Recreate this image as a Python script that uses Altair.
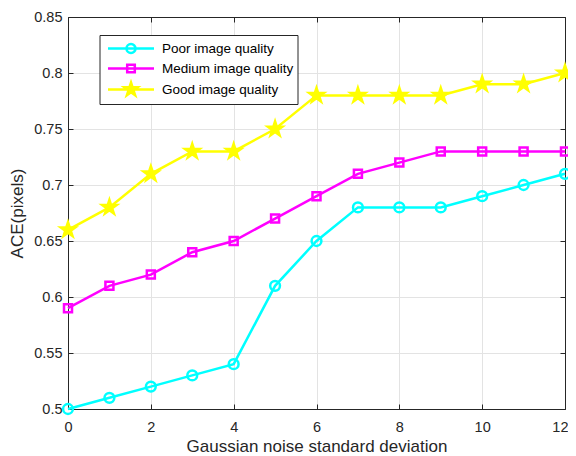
import math
import altair as alt
import pandas as pd

# ---------------- data ----------------
noise_sd = [0, 1, 2, 3, 4, 5, 6, 7, 8, 9, 10, 11, 12]
poor = [0.50, 0.51, 0.52, 0.53, 0.54, 0.61, 0.65, 0.68, 0.68, 0.68, 0.69, 0.70, 0.71]
medium = [0.59, 0.61, 0.62, 0.64, 0.65, 0.67, 0.69, 0.71, 0.72, 0.73, 0.73, 0.73, 0.73]
good = [0.66, 0.68, 0.71, 0.73, 0.73, 0.75, 0.78, 0.78, 0.78, 0.78, 0.79, 0.79, 0.80]
series_names = ["Poor image quality", "Medium image quality", "Good image quality"]
x_ticks = [0, 2, 4, 6, 8, 10, 12]
y_ticks = [0.5, 0.55, 0.6, 0.65, 0.7, 0.75, 0.8, 0.85]

# ---------------- styles ----------------
series_colors = ["#00FFFF", "#FF00FF", "#FFFF00"]
series_fills = ["transparent", "transparent", "#FFFF00"]
FONT = "Liberation Sans"
TXT = "#262626"


def f(v):
    return f"{v:.3f}"


def circle_path(r):
    return f"M{f(r)},0 A{f(r)},{f(r)} 0 1,1 {f(-r)},0 A{f(r)},{f(r)} 0 1,1 {f(r)},0 Z"


def square_path(h):
    return f"M{f(-h)},{f(-h)} L{f(h)},{f(-h)} L{f(h)},{f(h)} L{f(-h)},{f(h)} Z"


def star_path(R, ratio=0.382):
    pts = []
    for k in range(10):
        a = math.radians(-90 + 36 * k)
        rr = R if k % 2 == 0 else R * ratio
        pts.append((rr * math.cos(a), rr * math.sin(a)))
    return "M" + " L".join(f"{f(px)},{f(py)}" for px, py in pts) + " Z"


# plot markers: size 100 -> unit = 5px
PT_SIZE = 100
u = math.sqrt(PT_SIZE) / 2
marker_paths = [circle_path(4.9 / u), square_path(4.0 / u), star_path(7.6 / u)]

# legend symbols: line + marker
LG_SIZE = 306.25
lu = math.sqrt(LG_SIZE) / 2
half = 23 / lu
line_seg = f"M{f(-half)},0 L{f(half)},0 "
legend_paths = [
    line_seg + circle_path(4.5 / lu),
    line_seg + square_path(3.8 / lu),
    line_seg + star_path(7.0 / lu),
]

rows = []
for name, vals in zip(series_names, [poor, medium, good]):
    for xv, yv in zip(noise_sd, vals):
        rows.append({"x": xv, "y": yv, "series": name})
df = pd.DataFrame(rows)

x_scale = alt.Scale(domain=[0, 12], nice=False, zero=False)
y_scale = alt.Scale(domain=[0.5, 0.85], nice=False, zero=False)
stroke_scale = alt.Scale(domain=series_names, range=series_colors)
fill_scale = alt.Scale(domain=series_names, range=series_fills)

last_x = x_ticks[-1]
main_x_axis = alt.Axis(
    values=x_ticks, format="d", title="Gaussian noise standard deviation",
    grid=True, gridColor="#e3e3e3", gridWidth=1,
    domainColor=TXT, domainWidth=1, tickColor=TXT, tickSize={"expr": "-5"},
    labelFont=FONT, labelFontSize=14.5, labelColor=TXT, labelPadding=16,
    labelAlign={"condition": {"test": f"datum.value == {last_x}", "value": "right"}, "value": "center"},
    labelOffset={"condition": {"test": f"datum.value == {last_x}", "value": 3}, "value": 0},
    titleFont=FONT, titleFontSize=17, titleFontWeight="normal", titleColor=TXT,
    titlePadding=5, labelFlush=False,
)
main_y_axis = alt.Axis(
    values=y_ticks, format="~g", title="ACE(pixels)",
    grid=True, gridColor="#e3e3e3", gridWidth=1,
    domainColor=TXT, domainWidth=1, tickColor=TXT, tickSize={"expr": "-5"},
    labelFont=FONT, labelFontSize=14.5, labelColor=TXT, labelPadding=11,
    titleFont=FONT, titleFontSize=17, titleFontWeight="normal", titleColor=TXT,
    titlePadding=7, labelFlush=False,
)
box_x_axis = alt.Axis(
    orient="top", values=x_ticks, labels=False, title=None, grid=False,
    domainColor=TXT, domainWidth=1, tickColor=TXT, tickSize={"expr": "-5"},
)
box_y_axis = alt.Axis(
    orient="right", values=y_ticks, labels=False, title=None, grid=False,
    domainColor=TXT, domainWidth=1, tickColor=TXT, tickSize={"expr": "-5"},
)

lines = alt.Chart(df).mark_line(strokeWidth=2.5).encode(
    x=alt.X("x:Q", scale=x_scale, axis=main_x_axis),
    y=alt.Y("y:Q", scale=y_scale, axis=main_y_axis),
    stroke=alt.Stroke("series:N", scale=stroke_scale, legend=None),
    order=alt.Order("x:Q"),
)

points = alt.Chart(df).mark_point(filled=True, size=PT_SIZE, strokeWidth=2.5, opacity=1).encode(
    x=alt.X("x:Q", scale=x_scale, axis=box_x_axis),
    y=alt.Y("y:Q", scale=y_scale, axis=box_y_axis),
    stroke=alt.Stroke("series:N", scale=stroke_scale, legend=None),
    fill=alt.Fill("series:N", scale=fill_scale, legend=None),
    shape=alt.Shape("series:N", scale=alt.Scale(domain=series_names, range=marker_paths), legend=None),
)

legend_def = dict(
    title=None, orient="none", legendX=31.5, legendY=18,
    padding=3.5, fillColor="white", strokeColor=TXT,
    symbolSize=LG_SIZE, symbolStrokeWidth=2.5, symbolOffset=18, symbolOpacity=1,
    labelOffset=21, labelFont=FONT, labelFontSize=13.5, labelColor="black",
    rowPadding=0, labelLimit=300,
)

legend_layer = alt.Chart(df).transform_filter("datum.x < -100").mark_point(
    filled=True, size=LG_SIZE, strokeWidth=2.5
).encode(
    x=alt.X("x:Q", scale=x_scale, axis=None),
    y=alt.Y("y:Q", scale=y_scale, axis=None),
    stroke=alt.Stroke("series:N", scale=stroke_scale, legend=alt.Legend(**legend_def), sort=series_names),
    fill=alt.Fill("series:N", scale=fill_scale, legend=alt.Legend(**legend_def), sort=series_names),
    shape=alt.Shape("series:N", scale=alt.Scale(domain=series_names, range=legend_paths),
                    legend=alt.Legend(**legend_def), sort=series_names),
)

chart = (
    alt.layer(lines, points, legend_layer)
    .resolve_scale(stroke="independent", fill="independent", shape="independent")
    .resolve_axis(x="independent", y="independent")
    .properties(
        width=497, height=392,
        autosize=alt.AutoSizeParams(type="none"),
        padding={"left": 60, "top": 9, "right": 3, "bottom": 47},
        background="white",
    )
    .configure_view(stroke=None)
    .configure(font=FONT)
    .configure_legend(strokeWidth=1)
)

chart.save("out.html", embed_options={"renderer": "svg", "actions": False})
